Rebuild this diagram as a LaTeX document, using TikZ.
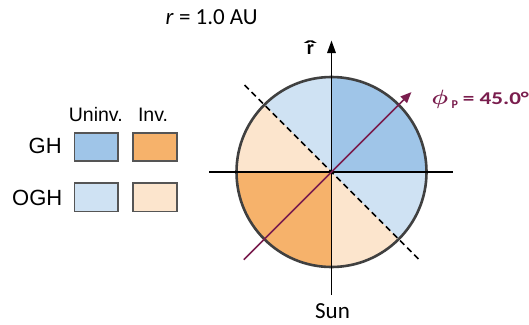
\documentclass[tikz,border=0pt]{standalone}
\usepackage{fontspec}
\usepackage{bm}
\setmainfont{Carlito}
\newfontfamily\arialfont{Liberation Sans}
\usetikzlibrary{arrows.meta,calc}
\definecolor{ghuninv}{HTML}{9FC5E8}
\definecolor{ghinv}{HTML}{F6B26B}
\definecolor{oghuninv}{HTML}{CFE2F3}
\definecolor{oghinv}{HTML}{FCE5CD}
\definecolor{phicol}{HTML}{7A1E4E}
\definecolor{rimcol}{HTML}{404040}
\definecolor{boxcol}{HTML}{555555}
\tikzset{
  txt/.style={inner sep=0pt, outer sep=0pt},
  legtxt/.style={txt, font=\arialfont\fontsize{19.5}{22}\selectfont},
  rowtxt/.style={txt, font=\arialfont\fontsize{22}{26}\selectfont},
  legbox/.style={draw=boxcol, line width=1.7pt, minimum width=43.5pt, minimum height=28.5pt, inner sep=0pt},
  axisline/.style={line width=1.6pt, black},
  dashline/.style={line width=1.6pt, black, dash pattern=on 6pt off 4pt},
}
\begin{document}
\begin{tikzpicture}[x=1pt,y=1pt]
\useasboundingbox (0,0) rectangle (529,-324);
% legend
\node[legtxt, anchor=base] (hu) at (95.8,-121.7) {Uninv.};
\node[legtxt, anchor=base] (hi) at (153,-121.7) {Inv.};
\node[rowtxt, anchor=base east] (gh) at (61.7,-153.3) {GH};
\node[rowtxt, anchor=base east] (ogh) at (62.3,-205) {OGH};
\node[legbox, fill=ghuninv] (b1) at (96.2,-147) {};
\node[legbox, fill=ghinv] (b2) at (155,-147) {};
\node[legbox, fill=oghuninv] (b3) at (96.2,-197.2) {};
\node[legbox, fill=oghinv] (b4) at (155,-197.2) {};
% title
\node[txt, anchor=base, font=\fontsize{23}{27}\selectfont] (title) at (211.7,-24) {\textit{r} = 1.0 AU};
% wheel
\coordinate (C) at (331.5,-172);
\fill[ghuninv] (C) -- ++(0:95pt) arc[start angle=0, end angle=90, radius=95pt] -- cycle;
\fill[oghuninv] (C) -- ++(90:95pt) arc[start angle=90, end angle=135, radius=95pt] -- cycle;
\fill[oghinv] (C) -- ++(135:95pt) arc[start angle=135, end angle=180, radius=95pt] -- cycle;
\fill[ghinv] (C) -- ++(180:95pt) arc[start angle=180, end angle=270, radius=95pt] -- cycle;
\fill[oghinv] (C) -- ++(270:95pt) arc[start angle=270, end angle=315, radius=95pt] -- cycle;
\fill[oghuninv] (C) -- ++(315:95pt) arc[start angle=315, end angle=360, radius=95pt] -- cycle;
\draw[rimcol, line width=2.6pt] (C) circle[radius=95pt];
\coordinate (ytop) at (331.5,-40.5);
\coordinate (ybot) at (331.5,-295);
\coordinate (xl) at (209,-172);
\coordinate (xr) at (453,-172);
\coordinate (d1) at ($(C)+(135:123pt)$);
\coordinate (d2) at ($(C)+(-45:125pt)$);
\coordinate (p1) at ($(C)+(225:124pt)$);
\coordinate (p2) at ($(C)+(45:113pt)$);
\draw[axisline] (xl) -- (xr);
\draw[axisline, -{Triangle[length=12.5pt,width=8.5pt]}] (ybot) -- (ytop);
\draw[dashline] (d1) -- (d2);
\draw[line width=1.7pt, phicol, -{Triangle[length=11pt,width=9pt]}] (p1) -- (p2);
% labels
\node[txt, anchor=base] (rhat) at (310.5,-54) {\fontsize{20}{20}\selectfont\bfseries\ooalign{\hidewidth r\hidewidth\cr\scalebox{2}[1]{ˆ}\cr}};
\node[txt, anchor=base] (sun) at (332.5,-318.3) {\fontsize{23}{27}\selectfont Sun};
\node[txt, anchor=base west, text=phicol] (phi) at (431.5,-104) {\resizebox{16.5pt}{\height}{\fontsize{22}{24}\selectfont$\bm{\phi}$}\hspace{3.5pt}\raisebox{-4.5pt}{\fontsize{12}{13}\selectfont\bfseries P}\hspace{5pt}\resizebox{66pt}{\height}{\fontsize{18}{22}\selectfont\bfseries = 45.0°}};
\end{tikzpicture}
\end{document}
